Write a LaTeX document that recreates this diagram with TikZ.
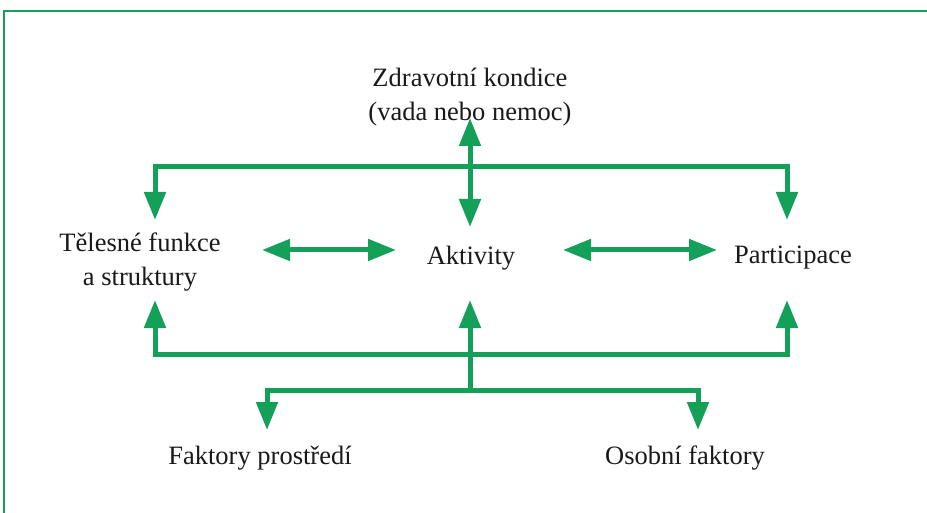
\documentclass[tikz,border=0pt]{standalone}
\usepackage{fontspec}
\setmainfont{Liberation Serif}
\usepackage{tikz}
\usetikzlibrary{positioning,arrows.meta}
\definecolor{icfgreen}{HTML}{15A05A}
\tikzset{
  lab/.style   ={inner sep=2pt, align=center, text=black!90, font=\fontsize{26.5}{33.5}\selectfont},
  link/.style  ={-{Triangle[length=28pt,width=21pt]}, line width=5pt, icfgreen},
  link2/.style ={{Triangle[length=28pt,width=21pt]}-{Triangle[length=28pt,width=21pt]}, line width=5pt, icfgreen},
  frame/.style ={line width=2pt, icfgreen},
}
\begin{document}
\begin{tikzpicture}[x=1pt,y=-1pt]
  \useasboundingbox (0,0) rectangle (927,513);
  \draw[frame] (4,520) -- (4,11) -- (935,11);

  \node[lab] (zk)  at (470,97)  {Zdravotní kondice\\(vada nebo nemoc)};
  \node[lab] (tf)  at (140,262) {Tělesné funkce\\a struktury};
  \node[lab] (akt) at (471,258) {Aktivity};
  \node[lab] (par) at (793,258) {Participace};
  \node[lab] (fp)  at (260,458) {Faktory prostředí};
  \node[lab] (ob)  at (685,458) {Osobní faktory};

  \coordinate (jt)  at (470,167);
  \coordinate (jb)  at (470,354);
  \coordinate (jl)  at (470,390);
  \coordinate (zkB) at (470,118);
  \coordinate (akT) at (470,227);
  \coordinate (akB) at (470,300);
  \coordinate (tfT) at (155,220);
  \coordinate (tfB) at (155,300);
  \coordinate (paT) at (787,220);
  \coordinate (paB) at (787,300);
  \coordinate (fpT) at (267,430);
  \coordinate (obT) at (698,430);
  \coordinate (h1)  at (262,250);
  \coordinate (h2)  at (396,250);
  \coordinate (h3)  at (563,250);
  \coordinate (h4)  at (717,250);

  \draw[link]  (jt) -| (tfT);
  \draw[link]  (jt) -| (paT);
  \draw[link2] (zkB) -- (akT);
  \draw[link2] (h1) -- (h2);
  \draw[link2] (h3) -- (h4);
  \draw[link]  (jb) -| (tfB);
  \draw[link]  (jb) -| (paB);
  \draw[link]  (jl) -- (akB);
  \draw[link]  (jl) -| (fpT);
  \draw[link]  (jl) -| (obT);
\end{tikzpicture}
\end{document}
